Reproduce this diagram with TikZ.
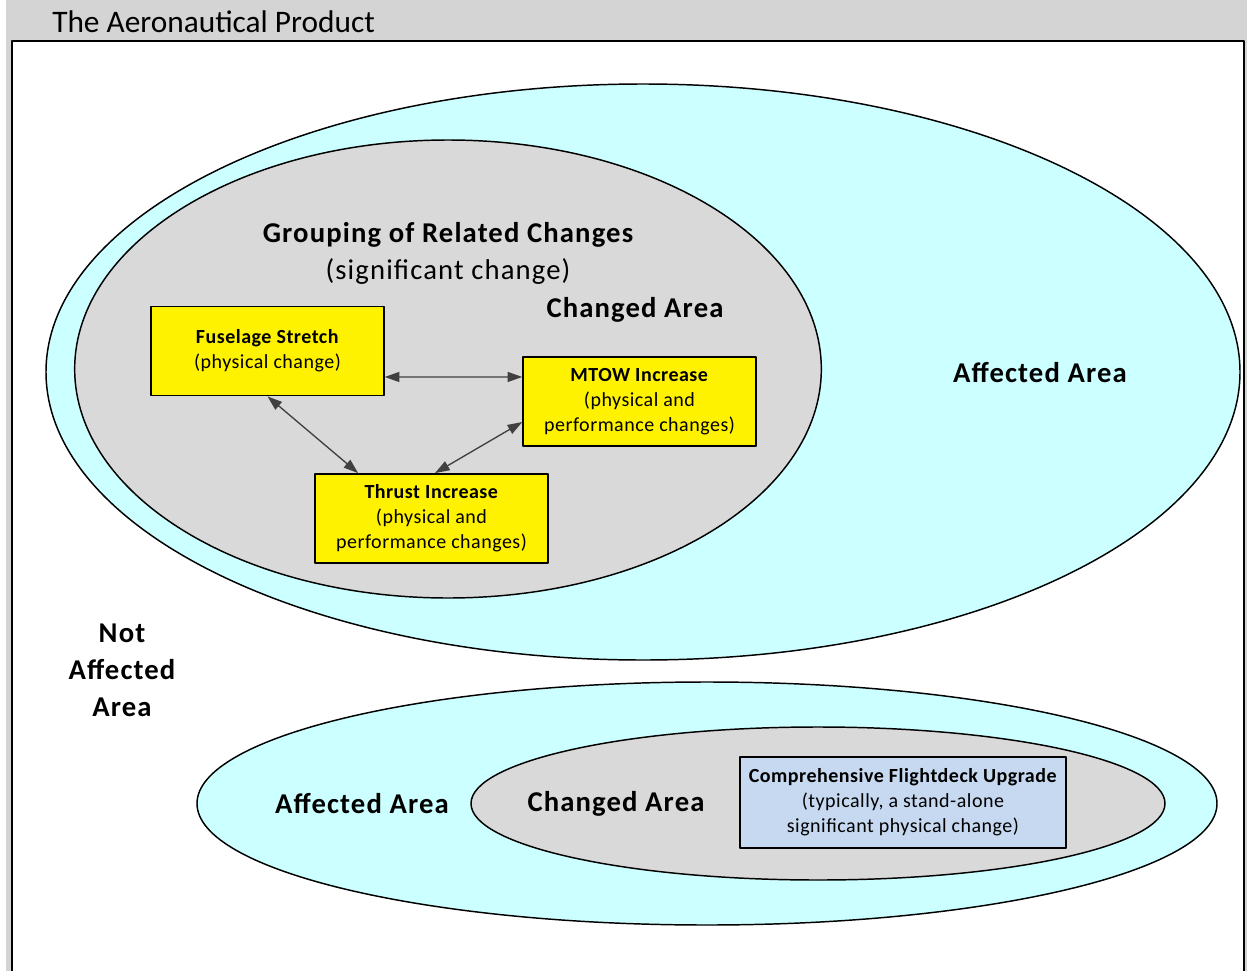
\documentclass[tikz,border=0pt]{standalone}
\usepackage{fontspec}
\setmainfont{Carlito}
\newfontfamily\widefont{Carlito}[LetterSpace=4]
\newfontfamily\boxfont{Carlito}[LetterSpace=2.5]
\usetikzlibrary{shapes.geometric,arrows.meta}
\definecolor{affcyan}{HTML}{CCFFFF}
\definecolor{chgray}{HTML}{D9D9D9}
\definecolor{framegray}{HTML}{D4D4D4}
\definecolor{deckblue}{HTML}{C6D9F1}
\definecolor{arrgray}{HTML}{404040}
\begin{document}
\begin{tikzpicture}[x=0.75pt, y=-0.75pt, line join=round, >={Triangle[length=11pt,width=7.5pt]},
	zone/.style={ellipse, draw, line width=1.1pt, inner sep=0pt},
	chbox/.style={draw, fill=yellow, line width=1.1pt, minimum width=174.75pt, minimum height=67pt, align=center, inner sep=0pt, font=\boxfont\fontsize{15}{18.75}\selectfont},
	bigtxt/.style={font=\widefont\fontsize{21.5}{27.75}\selectfont\bfseries, align=center, inner sep=0pt},
	link/.style={<->, arrgray, line width=1pt}]
	\useasboundingbox (0,0) rectangle (1247,971);
	\clip (0,0) rectangle (1247,971);
	\fill[framegray] (6,0) rectangle (1247,971);
	\draw[fill=white, line width=1.5pt] (11.5,40.5) rectangle (1244,990);
	\node[anchor=west, inner sep=0pt, font=\fontsize{23.5}{28}\selectfont] (title) at (52,22) {The Aeronautical Product};
	% grouping of related changes
	\node[zone, fill=affcyan, minimum width=895.5pt, minimum height=432pt] (aff1) at (643,372) {};
	\node[zone, fill=chgray, minimum width=560pt, minimum height=343.5pt] (chg1) at (448,369) {};
	\node[bigtxt] (group) at (448,253.5) {Grouping of Related Changes\\\mdseries(significant change)};
	\node[bigtxt] (chglab1) at (635,310) {Changed Area};
	\node[bigtxt] (afflab1) at (1040,373) {Affected Area};
	\node[chbox] (fus) at (267.5,351) {\textbf{Fuselage Stretch}\\(physical change)};
	\node[chbox] (mtow) at (639.5,401.5) {\textbf{MTOW Increase}\\(physical and\\performance changes)};
	\node[chbox] (thrust) at (431.5,518.5) {\textbf{Thrust Increase}\\(physical and\\performance changes)};
	\draw[link] ([yshift=-19.5pt]fus.east) -- ([yshift=18.4pt]mtow.west);
	\draw[link] (fus.south) -- ([xshift=-55pt]thrust.north);
	\draw[link] ([yshift=-15.4pt]mtow.west) -- ([xshift=2.6pt]thrust.north);
	\node[bigtxt] (notaff) at (122,670) {Not\\Affected\\Area};
	% stand-alone change
	\node[zone, fill=affcyan, minimum width=765pt, minimum height=182.25pt] (aff2) at (707,803.5) {};
	\node[zone, fill=chgray, minimum width=520.5pt, minimum height=114.75pt] (chg2) at (818,803.5) {};
	\node[bigtxt] (afflab2) at (362,804) {Affected Area};
	\node[bigtxt] (chglab2) at (616,804) {Changed Area};
	\node[chbox, fill=deckblue, minimum width=244.5pt, minimum height=68.25pt] (deck) at (903,802.5) {\textbf{Comprehensive Flightdeck Upgrade}\\(typically, a stand-alone\\significant physical change)};
\end{tikzpicture}
\end{document}
